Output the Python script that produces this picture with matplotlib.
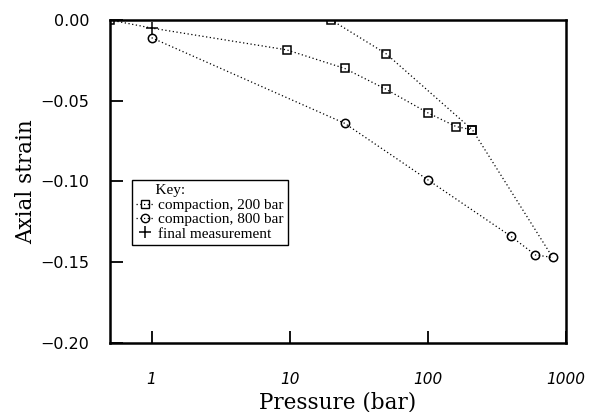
import numpy as np
import matplotlib.pyplot as plt
from matplotlib.lines import Line2D

# data
p_sq_a = [0.5, 9.5, 25, 50, 100, 160, 210]
e_sq_a = [0.0, -0.0185, -0.030, -0.043, -0.0575, -0.066, -0.068]

p_sq_b = [20, 50, 210, 800]
e_sq_b = [0.0, -0.021, -0.068, -0.147]

p_circ = [1, 25, 100, 400, 600, 800]
e_circ = [-0.011, -0.064, -0.099, -0.134, -0.1455, -0.147]

p_final = [1]
e_final = [-0.005]

serif = 'DejaVu Serif'
dots = (0, (1, 2))
ms = 5.5

fig = plt.figure(figsize=(5.96, 4.12), dpi=100)
ax = fig.add_axes([0.1846, 0.1675, 0.7651, 0.784])

# line through the first square series, passing the final measurement at 1 bar
ax.plot([p_sq_a[0], p_final[0]] + p_sq_a[1:], [e_sq_a[0], e_final[0]] + e_sq_a[1:],
        color='k', lw=0.9, ls=dots)
ax.plot(p_sq_a, e_sq_a, ls='none', marker='s', ms=ms, mfc='none', mec='k', mew=1.1)

ax.plot(p_sq_b, e_sq_b, color='k', lw=0.9, ls=dots)
ax.plot(p_sq_b[:-1], e_sq_b[:-1], ls='none', marker='s', ms=ms, mfc='none', mec='k', mew=1.1)

ax.plot(p_circ, e_circ, color='k', lw=0.9, ls=dots, marker='o', ms=ms + 0.5,
        mfc='none', mec='k', mew=1.1)

ax.plot(p_final, e_final, ls='none', marker='+', ms=8, mec='k', mew=1.1)

ax.set_xscale('log')
ax.set_xlim(0.5, 1000)
ax.set_ylim(-0.20, 0.0)
ax.set_xticks([1, 10, 100, 1000])
ax.set_xticklabels(['1', '10', '100', '1000'], fontstyle='italic', fontsize=11)
ax.minorticks_off()
ax.set_yticks([0.0, -0.05, -0.10, -0.15, -0.20])
ax.set_yticklabels(['0.00', '\u22120.05', '\u22120.10', '\u22120.15', '\u22120.20'], fontsize=11.5)
ax.tick_params(axis='x', direction='in', length=9, width=1.3, pad=21)
ax.tick_params(axis='y', direction='in', length=9, width=1.3, pad=15)

for s in ax.spines.values():
    s.set_linewidth(1.8)

ax.set_xlabel('Pressure (bar)', family=serif, fontsize=15.5, labelpad=3)
ax.set_ylabel('Axial strain', family=serif, fontsize=15.5, labelpad=2)

handles = [
    Line2D([], [], color='k', lw=0.9, ls=dots, marker='s', ms=ms, mfc='none', mec='k'),
    Line2D([], [], color='k', lw=0.9, ls=dots, marker='o', ms=ms + 0.5, mfc='none', mec='k'),
    Line2D([], [], ls='none', marker='+', ms=8, mec='k', mew=1.1),
]
labels = ['compaction, 200 bar', 'compaction, 800 bar', 'final measurement']
leg = ax.legend(handles, labels, title='     Key:', loc='upper left',
                bbox_to_anchor=(0.048, 0.505), borderaxespad=0,
                prop={'family': 'Liberation Serif', 'size': 11}, handlelength=1.1,
                handletextpad=0.3, labelspacing=0.05, borderpad=0.3,
                fancybox=False, framealpha=1, edgecolor='k', alignment='left')
leg.get_title().set_family('Liberation Serif')
leg.get_title().set_fontsize(11)
leg.get_frame().set_linewidth(1.0)

fig.savefig('out.png', dpi=100)
